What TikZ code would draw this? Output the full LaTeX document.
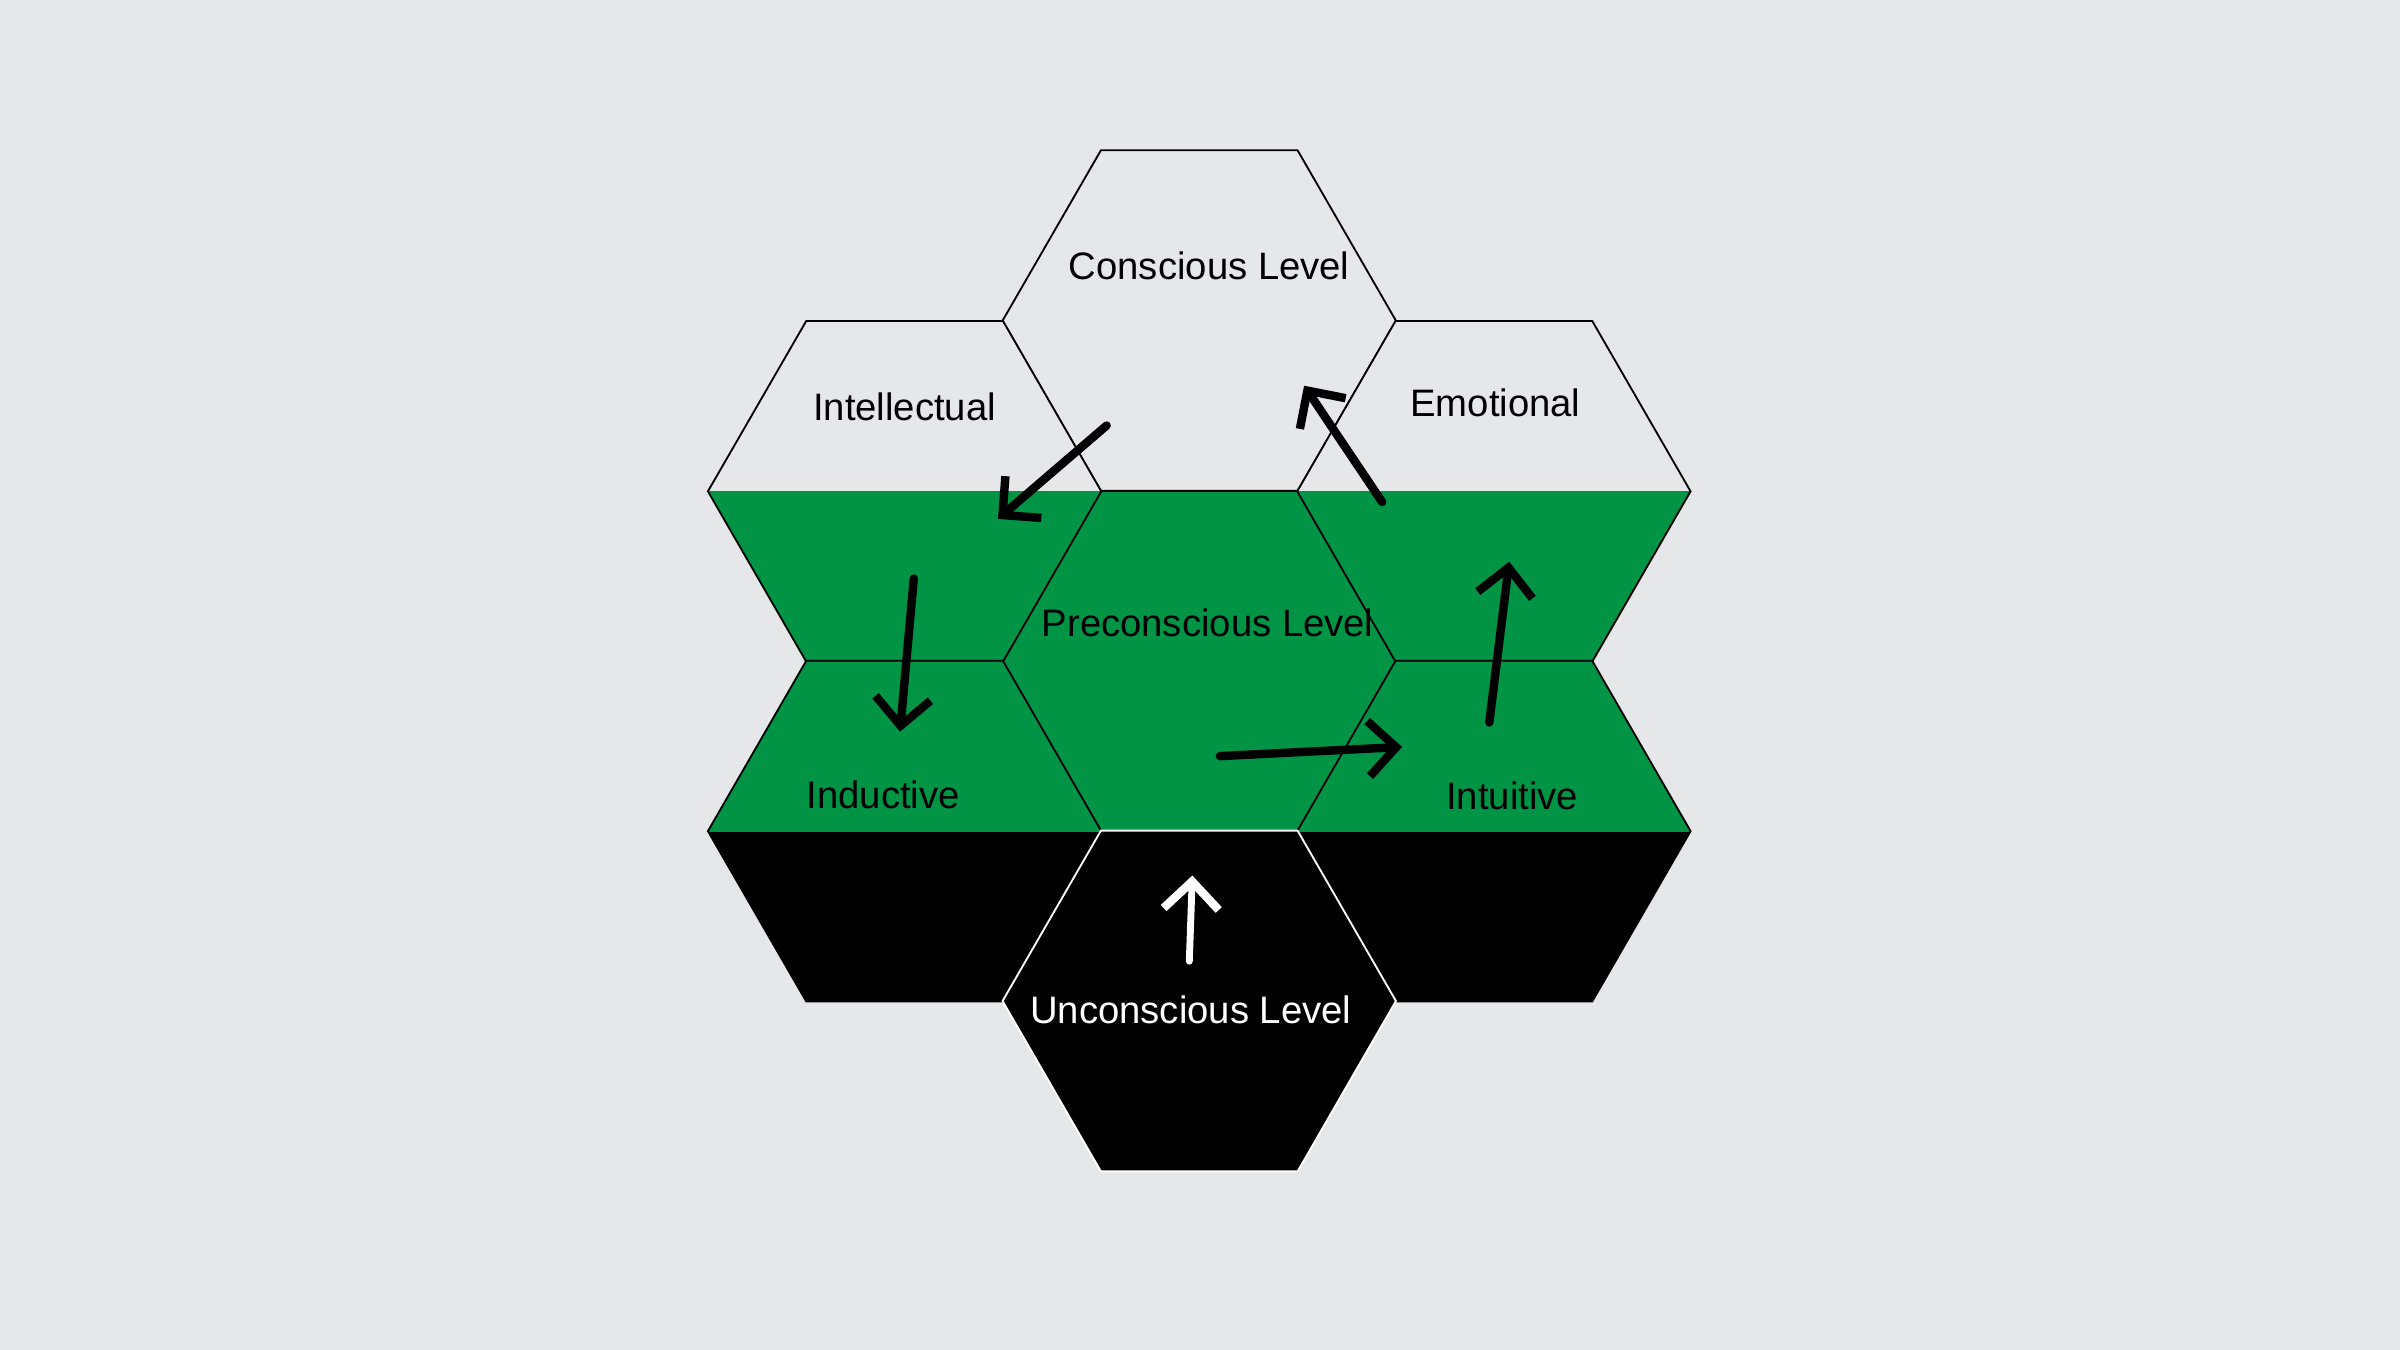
\documentclass[tikz,border=0pt]{standalone}
\usepackage{fontspec}
\setmainfont{Liberation Sans}
\usetikzlibrary{arrows.meta}
\definecolor{bg}{HTML}{E6E7E9}
\definecolor{grn}{HTML}{009444}
\begin{document}
\begin{tikzpicture}[x=1pt,y=-1pt,
  hexline/.style={draw=black,line width=1.2pt},
  lbl/.style={font=\fontsize{25}{29}\selectfont},
  arr/.style={line width=5.5pt,line cap=round,-{Straight Barb[length=18pt,width=36pt,line width=5.5pt]}}]
\def\hex{(-128.5,0) -- (-64.25,-111.3) -- (64.25,-111.3) -- (128.5,0) -- (64.25,111.3) -- (-64.25,111.3) -- cycle}
\fill[bg] (0,0) rectangle (1568,882);
\useasboundingbox (0,0) rectangle (1568,882);
\begin{scope}[shift={(783.5,209.5)}]\fill[bg]\hex;\draw[hexline]\hex;\end{scope}
\begin{scope}[shift={(783.5,432)}]\fill[grn]\hex;\draw[hexline]\hex;\end{scope}
\foreach \cx in {591,976}{
\begin{scope}[shift={(\cx,321)}]\fill[bg]\hex;\begin{scope}\clip (-130,0) rectangle (130,115);\fill[grn]\hex;\end{scope}\draw[hexline]\hex;\end{scope}
\begin{scope}[shift={(\cx,543)}]\fill[black]\hex;\begin{scope}\clip (-130,-115) rectangle (130,0);\fill[grn]\hex;\end{scope}\draw[hexline]\hex;\end{scope}
}
\begin{scope}[shift={(783.5,654)}]\fill[black]\hex;\draw[draw=white,line width=1.2pt]\hex;\end{scope}
\node[lbl] (cons) at (790,174) {Conscious Level};
\node[lbl] (intel) at (591,266) {Intellectual};
\node[lbl] (emo) at (977,263) {Emotional};
\node[lbl] (pre) at (789,407) {Preconscious Level};
\node[lbl] (ind) at (577,519) {Inductive};
\node[lbl] (intu) at (988,520) {Intuitive};
\node[lbl,text=white] (unc) at (778,660) {Unconscious Level};
\coordinate (a1s) at (723,278); \coordinate (a1e) at (652,339);
\coordinate (a2s) at (597,378); \coordinate (a2e) at (588,478);
\coordinate (a3s) at (797,494); \coordinate (a3e) at (916,488);
\coordinate (a4s) at (973,472); \coordinate (a4e) at (986,367);
\coordinate (a5s) at (903,328); \coordinate (a5e) at (852,252);
\coordinate (a6s) at (777,628); \coordinate (a6e) at (779,572);
\draw[arr] (a1s) -- (a1e);
\draw[arr] (a2s) -- (a2e);
\draw[arr] (a3s) -- (a3e);
\draw[arr] (a4s) -- (a4e);
\draw[arr] (a5s) -- (a5e);
\draw[arr,white,line width=4.5pt] (a6s) -- (a6e);
\end{tikzpicture}
\end{document}
